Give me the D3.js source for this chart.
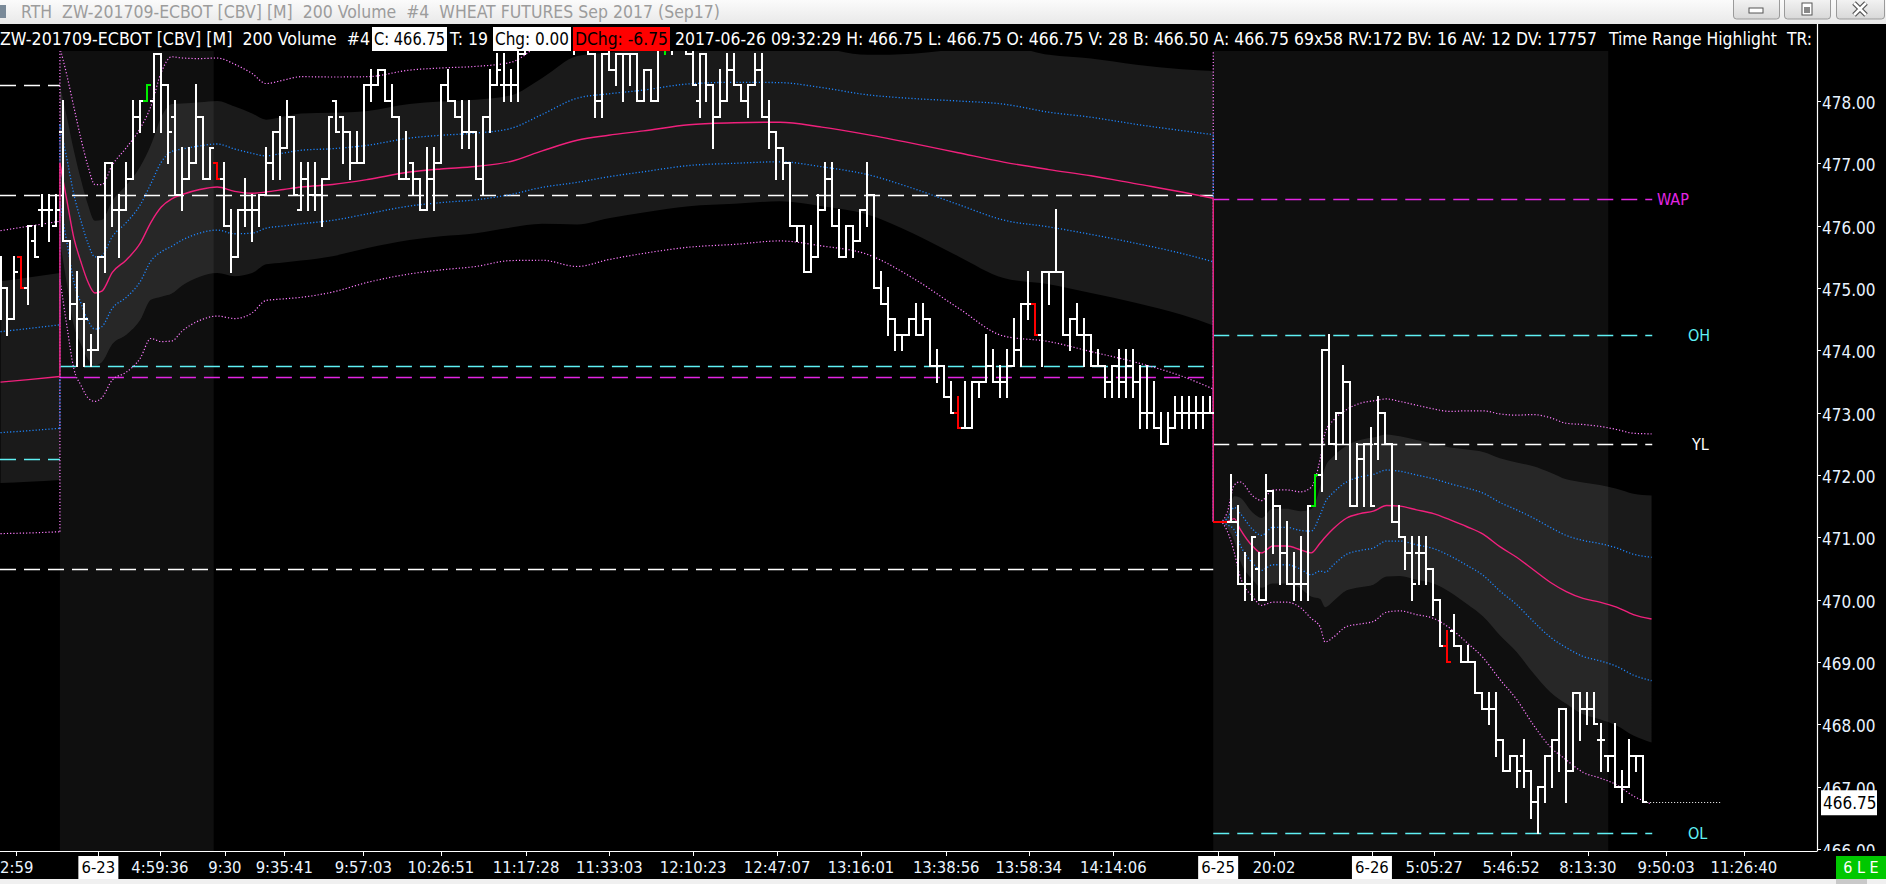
<!DOCTYPE html>
<html><head><meta charset="utf-8">
<script src="https://cdn.jsdelivr.net/npm/d3@7/dist/d3.min.js"></script>
<style>
html,body{margin:0;padding:0;background:#000;overflow:hidden}
svg{display:block}
text{font-family:"DejaVu Sans Condensed","DejaVu Sans",sans-serif;white-space:pre}
</style></head><body>
<svg id="c" width="1886" height="884"></svg>
<script>
// ---------------- DATA ----------------
const opens = [
475,475,474.5,475.5,475,475.75,476.25,476.25,476,477.5,
475.75,474.75,474.5,474,474,475.5,477,476.25,476.25,476.75,
477.75,478,478,478.75,478.25,477.75,476.5,476.75,477,477.75,
476.75,477,476.75,476,475.5,476.25,476.25,476.25,476.5,477,
477.5,477.25,477.75,476.25,476.75,476.5,476.5,476.75,478,477.75,
477.5,477,477,478.25,478.25,478.5,478,477.75,476.75,477,
476.75,476.25,476.75,477,478.25,478,477.75,477.5,477.5,476.75,
477.75,478.25,478.25,478.25,478.25,478.75,479.25,479.25,479.5,479.5,
479.25,479.25,479,479.25,479,478.75,478,478.75,478.5,478.75,
478.75,478.75,478,478.5,478,479,479,479,479,478.75,
478,478.75,478.25,477.75,478,478.5,478.25,478,478.25,478.5,
477.75,477.5,477.25,477,476,476,475.25,475.5,476.25,476.75,
476,475.5,476,475.75,476.25,476.5,475,474.75,474.5,474.25,
474.25,474.5,474.25,474.5,473.75,473.75,473.25,473,472.75,472.75,
473.5,473.5,473.75,473.5,473.5,473.75,474,474.75,474.75,474.25,
475.25,475.25,475.25,474.25,474.5,474.25,474.25,473.75,473.75,473.5,
473.75,473.5,473.75,473.5,473,473,472.75,472.5,472.75,473,
473,473,473,473,471.25,471.25,471.25,471.25,470.25,470.25,
470.5,470,471.75,471.5,470.75,470.25,470.25,470.25,471.5,472,
474,472.5,473,473.5,471.5,472.25,472.5,472.5,473,472.5,
471.25,471,470.75,470.75,470.75,470.5,470,469.25,469.5,469.25,
469,469,468.5,468.25,468.25,467.75,467.25,467.5,467.5,467.25,
466.75,467,467.5,467.75,468.25,467.25,468.5,468.25,468.25,467.75,
467.5,467.5,467,467,467.5,467.5];
const highs = [
475.5,475,475.5,475.5,476,476,476.5,476.5,476.5,478,
475.75,475.25,474.75,474.25,475.5,477,477,476.5,477,478,
478,478.25,478.75,478.75,478.25,478,477.25,477.25,478.25,477.75,
477.25,477,477,476.25,476.25,476.75,476.5,476.5,477.25,477.5,
477.75,478,477.75,477,477,477,476.75,477.75,478,477.75,
477.5,477.5,478.25,478.5,478.5,478.5,478.25,477.75,477.5,477,
476.75,477.25,477.25,478.25,478.5,478,478,478,477.5,477.75,
478.5,478.75,478.75,478.5,479,479.5,479.5,479.75,479.75,479.75,
479.5,479.5,479.5,479.5,479.25,478.75,478.75,479,478.75,478.75,
478.75,478.75,478.5,478.5,479,479.5,479.25,479.25,479.25,479,
478.75,478.75,478.25,478.5,478.75,478.75,478.25,478.25,478.75,478.75,
478,477.5,477.25,477,476,476,476,476.5,477,477,
476.25,476,476,476.25,477,476.5,475.25,475,474.5,474.25,
474.5,474.75,474.75,474.5,474,473.75,473.5,473.25,473.5,473.5,
473.5,474.25,474,473.75,474,474.5,474.75,475.25,474.75,475.25,
475.25,476.25,475.25,474.5,474.75,474.5,474.25,474,473.75,473.75,
474,474,474,473.75,473.75,473.5,473,473,473.25,473.25,
473.25,473.25,473.25,473.25,471.25,471.25,472,471.5,470.75,471,
470.75,472,471.75,471.5,471.25,470.75,471,471.5,472,474,
474.25,473,473.75,473.5,472.5,472.5,472.75,473.25,473,472.5,
471.5,471,471,471,471,470.5,470,469.5,469.75,469.25,
469.25,469,468.5,468.5,468.5,467.75,467.5,467.5,467.75,467.25,
467,467.5,467.75,468.25,468.25,468.5,468.5,468.5,468.5,468,
467.5,468,467.25,467.75,467.5,467.5];
const lows = [
474.5,474.25,474.5,475,474.75,475.5,476,475.75,476,475.75,
474.5,473.75,473.75,473.75,474,475.25,476,475.5,476.25,476.75,
477.5,478,477.5,477.5,477,476.5,476.25,476.75,477,476.75,
476.75,476.75,476,475.25,475.5,476,475.75,476,476.5,476.75,
476.75,477.25,476.5,476.25,476.25,476.25,476,476.75,477.5,477,
476.75,477,477,478,478.25,478,477.75,476.75,476.75,476.5,
476.25,476.25,476.25,477,478,477.75,477.25,477.25,476.75,476.5,
477.5,478.25,478,478,478,478.75,479,479,479.25,479,
479,479,478.75,479,478.75,477.75,477.75,478.5,478.25,478,
478.25,478,478,478,478,478.75,478.75,479,478.75,478.25,
477.75,478,477.25,477.75,478,478.25,478,477.75,478.25,477.75,
477.25,476.75,476.75,476,475.75,475.25,475.25,475.5,476.25,476,
475.5,475.5,475.5,475.75,476,475,474.75,474.25,474,474,
474.25,474.25,474.25,473.75,473.5,473.25,473,472.75,472.75,472.75,
473.25,473.5,473.5,473.25,473.25,473.75,473.75,474.5,474.25,473.75,
474.75,475.25,474.25,474,474.25,473.75,473.75,473.75,473.25,473.25,
473.25,473.25,473.25,472.75,472.75,472.75,472.5,472.5,472.75,472.75,
472.75,472.75,472.75,473,471.25,471.25,471.25,470.25,470,470,
470,470,470.75,470.25,470.25,470,470,470,471.5,471.75,
472.5,472.25,472.5,471.5,471.5,471.5,471.5,472.25,472.5,471.25,
471,470.5,470,470.25,470.25,469.75,469.25,469,469.25,469,
469,468.5,468.25,468,467.5,467.25,467.25,467,467,466.5,
466.25,466.75,467,467.25,466.75,467.25,467.75,468,468,467.25,
467.25,467,466.75,467,467.25,466.75];
const closes = [
475,474.5,475.25,475,476,475.5,476.25,476.25,476.25,475.75,
474.75,474.5,474.5,474,475.5,477,476.25,476.25,476.75,477.75,
478,478.25,478.75,478.25,477.5,476.5,476.75,477,477.75,476.75,
477.25,476.75,476,475.5,476.25,476.25,476.25,476.5,477,477.5,
477.25,477.75,476.5,476.75,476.5,476.5,476.75,477.75,477.5,477.5,
477,477,478.25,478.25,478.5,478,477.75,476.75,476.75,476.75,
476.25,476.75,477,478.25,478,477.75,477.5,477.5,476.75,477.75,
478.25,478.5,478.25,478.25,478.75,479.25,479.25,479.5,479.5,479.25,
479.25,479,479.25,479,478.75,478,478.75,478.5,478.75,478.75,
478.75,478,478.5,478,479,479.25,479,479,478.75,478.25,
478.75,478.25,477.75,478,478.5,478.25,478,478.25,478.5,477.75,
477.5,477.25,477,476,476,475.25,475.5,476.25,476.75,476,
475.5,476,475.75,476.25,476.5,475,474.75,474.5,474.25,474.25,
474.5,474.25,474.5,473.75,473.75,473.25,473,472.75,472.75,473.5,
473.5,473.75,473.5,473.5,473.75,474,474.75,474.75,474.25,475.25,
475.25,475.25,474.25,474.5,474.25,474.25,473.75,473.75,473.5,473.75,
473.5,473.75,473.5,473,473,472.75,472.5,472.75,473,473,
473,473,473,473,471.25,471.25,471.25,470.25,470.25,471,
470,471.75,471.5,470.75,470.25,470.25,470.25,471.5,472,474,
472.5,473,473.5,471.5,472.25,472.5,471.5,473,472.5,471.25,
471,470.75,470.25,470.75,470.5,470,469.25,469,469.25,469,
469,468.5,468.25,468.25,467.75,467.25,467.5,467.25,467.25,466.75,
467,467.5,467.75,468.25,467.25,468.5,468.25,468.25,468,467.75,
467.5,467,467,467.5,467.5,466.75];
const redBars = [3,31,137,148,174,175,207];
const greenBars = [21,95,188];

// VWAP study per session: knot bar index, VWAP value, standard deviation
const sessAIdx  = [0,4,8.5];
const sessAVwap = [473.49,473.53,473.58];
const sessASd   = [0.81,0.82,0.83];
const sessBIdx  = [8.5,9.5,10.5,11.5,12.5,13.5,14.5,16,18,20,21.5,23,24.5,26,28.5,31,33.5,36,38,40.5,43,47.5,52.5,58.5,63,68,73,77.5,82.5,87,92,98.5,105,111.5,117.5,124,130.5,137,143.5,150,156,162.5,169,173.5];
const sessBVwap = [477.0,476.4,475.8,475.42,475.1,474.92,474.95,475.25,475.45,475.72,476.05,476.3,476.43,476.5,476.58,476.62,476.55,476.52,476.54,476.58,476.62,476.66,476.74,476.86,476.91,476.95,477.03,477.2,477.37,477.45,477.52,477.62,477.65,477.66,477.58,477.46,477.32,477.17,477.02,476.9,476.8,476.67,476.54,476.44];
const sessBSd   = [0.62,0.67,0.7,0.66,0.62,0.58,0.57,0.575,0.6,0.615,0.62,0.72,0.76,0.73,0.7,0.69,0.68,0.64,0.58,0.585,0.59,0.575,0.55,0.545,0.54,0.535,0.53,0.585,0.675,0.665,0.655,0.655,0.65,0.635,0.635,0.64,0.72,0.83,0.93,0.92,0.94,0.955,0.985,1.02];
const sessCIdx  = [173.5,174.5,175.5,176.5,177.3,179.2,180.4,182,184,186,187.5,188.8,189.5,190.7,192.6,194.5,196.4,198.3,200.2,202.6,205,207.4,209.8,212.1,214.5,216.9,219.3,221.7,224,226.4,228.8,231.2,233.6,236.2];
const sessCVwap = [471.25,471.25,471.25,471.3,471.14,470.85,470.75,470.86,470.86,470.8,470.75,470.91,471.0,471.14,471.31,471.38,471.42,471.51,471.5,471.44,471.38,471.28,471.17,471.05,470.85,470.68,470.48,470.28,470.13,470.02,469.96,469.88,469.76,469.69];
const sessCSd   = [0,0,0.05,0.18,0.25,0.27,0.28,0.3,0.3,0.31,0.35,0.45,0.56,0.58,0.58,0.59,0.59,0.57,0.56,0.56,0.56,0.58,0.62,0.66,0.71,0.76,0.83,0.88,0.9,0.93,0.94,0.95,0.97,0.99];

// time range highlight (bar index ranges)
const highlightFrom = [9,174];
const highlightTo   = [30,229.5];

// reference levels
const levelValues = [478.25,472.25,476.5,470.5,473.75,473.57,476.43,474.25,472.5,466.25];
const levelFrom   = [-1,-1,-1,-1,8.5,8.5,173.5,173.5,173.5,173.5];
const levelTo     = [8.5,8.5,173.5,173.5,173.5,173.5,236.3,236.3,236.3,236.3];
const levelKinds  = ['w','c','w','w','c','m','m','c','w','c'];
const levelLabels = ['','','','','','','WAP','OH','YL','OL'];

// axes
const priceTicks = [466,467,468,469,470,471,472,473,474,475,476,477,478];
const timeTickIdx = [2.2,14,22.8,32.1,40.6,51.9,63,75.2,87.1,99.1,111.1,123.1,135.3,147.1,159.2,174.2,182.2,196.2,205.1,216.1,227.1,238.3,249.4];
const timeTickText = ['2:59','6-23','4:59:36','9:30','9:35:41','9:57:03','10:26:51','11:17:28','11:33:03','12:10:23','12:47:07','13:16:01','13:38:56','13:58:34','14:14:06','6-25','20:02','6-26','5:05:27','5:46:52','8:13:30','9:50:03','11:26:40'];
const lastPrice = 466.75;

const titleText = 'RTH  ZW-201709-ECBOT [CBV] [M]  200 Volume  #4  WHEAT FUTURES Sep 2017 (Sep17)';
const infoParts = [
  'ZW-201709-ECBOT [CBV] [M]  200 Volume  #4',
  'C: 466.75','T: 19','Chg: 0.00','DChg: -6.75',
  '2017-06-26 09:32:29 H: 466.75 L: 466.75 O: 466.75 V: 28 B: 466.50 A: 466.75 69x58 RV:172 BV: 16 AV: 12 DV: 17757',
  'Time Range Highlight  TR:'];

// ---------------- DRAW ----------------
const W=1886,H=884, plotRight=1817, plotTop=51, plotBottom=851;
const x = d3.scaleLinear().domain([0,1]).range([0.5,7.49]);
const y = d3.scaleLinear().domain([466,478]).range([849,101]);
const svg = d3.select('#c');
const defs = svg.append('defs');
defs.append('clipPath').attr('id','plotClip').append('rect')
  .attr('x',0).attr('y',plotTop).attr('width',plotRight).attr('height',plotBottom-plotTop);
defs.append('clipPath').attr('id','axisClip').append('rect')
  .attr('x',plotRight).attr('y',24).attr('width',W-plotRight).attr('height',plotBottom-24);
const tg = defs.append('linearGradient').attr('id','tbar').attr('x1',0).attr('y1',0).attr('x2',0).attr('y2',1);
tg.append('stop').attr('offset',0).attr('stop-color','#fbfbfb');
tg.append('stop').attr('offset',1).attr('stop-color','#e9e9e9');
const bg = defs.append('linearGradient').attr('id','btn').attr('x1',0).attr('y1',0).attr('x2',0).attr('y2',1);
bg.append('stop').attr('offset',0).attr('stop-color','#f6f6f6');
bg.append('stop').attr('offset',1).attr('stop-color','#d8d8d8');

svg.append('rect').attr('width',W).attr('height',H).attr('fill','#000');
const g = svg.append('g').attr('clip-path','url(#plotClip)');

// highlight shading
highlightFrom.forEach((a,k)=>{
  const x0 = x(a)-3.5, x1 = x(highlightTo[k])+3.5;
  g.append('rect').attr('x',x0).attr('y',plotTop).attr('width',x1-x0).attr('height',plotBottom-plotTop)
   .attr('fill','#fff').attr('fill-opacity',0.058);
});

const sessions = [
  {idx:sessAIdx, vw:sessAVwap, sd:sessASd},
  {idx:sessBIdx, vw:sessBVwap, sd:sessBSd},
  {idx:sessCIdx, vw:sessCVwap, sd:sessCSd}];
sessions.forEach(s=>{ s.pts = s.idx.map((d,j)=>({i:d, v:s.vw[j], s:s.sd[j]})); });

// +-2 sd band
const area = d3.area().x(d=>x(d.i)).y0(d=>y(d.v-2*d.s)).y1(d=>y(d.v+2*d.s)).curve(d3.curveMonotoneX);
sessions.forEach(s=>{
  g.append('path').datum(s.pts).attr('d',area).attr('fill','#fff').attr('fill-opacity',0.1);
});

// reference level lines
const kindColor = {w:'#ffffff', c:'#5ff0f4', m:'#e326e3'};
levelValues.forEach((v,k)=>{
  g.append('line').attr('x1',levelFrom[k]<0?0:x(levelFrom[k])).attr('x2',x(levelTo[k]))
   .attr('y1',Math.round(y(v))+0.5).attr('y2',Math.round(y(v))+0.5)
   .attr('stroke',kindColor[levelKinds[k]]).attr('stroke-width',1.3).attr('stroke-dasharray','16,8');
});

// study lines
const lineStyles = [
  {k:3, color:'#ff7cff', dash:'1.2,2', w:1.2},
  {k:-3, color:'#ff7cff', dash:'1.2,2', w:1.2},
  {k:1, color:'#1e86ff', dash:'1.2,2', w:1.3},
  {k:-1, color:'#1e86ff', dash:'1.2,2', w:1.3},
  {k:0, color:'#f0207c', dash:null, w:1.4}];
lineStyles.forEach(st=>{
  const ln = d3.line().x(d=>x(d.i)).y(d=>y(d.v+st.k*d.s)).curve(d3.curveMonotoneX);
  sessions.forEach((s,si)=>{
    const p = g.append('path').datum(s.pts).attr('d',ln).attr('fill','none')
      .attr('stroke',st.color).attr('stroke-width',st.w);
    if(st.dash) p.attr('stroke-dasharray',st.dash);
    if(si>0){
      const a = sessions[si-1].pts[sessions[si-1].pts.length-1], b = s.pts[0];
      const c = g.append('line').attr('x1',x(a.i)).attr('x2',x(b.i))
        .attr('y1',y(a.v+st.k*a.s)).attr('y2',y(b.v+st.k*b.s))
        .attr('stroke',st.color).attr('stroke-width',st.w);
      if(st.dash) c.attr('stroke-dasharray',st.dash);
    }
  });
});

// OHLC bars
const bars = opens.map((o,i)=>({i, o, h:highs[i], l:lows[i], c:closes[i],
  col: redBars.includes(i)?'#ff0000':(greenBars.includes(i)?'#00ee00':'#ffffff')}));
const bg2 = g.append('g').attr('shape-rendering','crispEdges');
bars.forEach(b=>{
  const cx = Math.round(x(b.i));
  bg2.append('line').attr('x1',cx).attr('x2',cx).attr('y1',y(b.h)-1).attr('y2',y(b.l)+1)
    .attr('stroke',b.col).attr('stroke-width',2);
  bg2.append('line').attr('x1',cx-4).attr('x2',cx).attr('y1',y(b.o)).attr('y2',y(b.o))
    .attr('stroke',b.col).attr('stroke-width',2);
  bg2.append('line').attr('x1',cx).attr('x2',cx+4).attr('y1',y(b.c)).attr('y2',y(b.c))
    .attr('stroke',b.col).attr('stroke-width',2);
});

// last price dotted line
g.append('line').attr('x1',x(opens.length-1)+4).attr('x2',1722)
  .attr('y1',Math.round(y(lastPrice))+0.5).attr('y2',Math.round(y(lastPrice))+0.5)
  .attr('stroke','#fff').attr('stroke-width',1).attr('stroke-dasharray','1,2');

// level labels
const labelX = {WAP:1657, OH:1688, YL:1692, OL:1688};
levelLabels.forEach((t,k)=>{
  if(!t) return;
  svg.append('text').attr('x',labelX[t]).attr('y',y(levelValues[k])).attr('dy','0.36em')
    .attr('fill',kindColor[levelKinds[k]]).attr('font-size',16).text(t);
});

// right price axis
const ax = svg.append('g').attr('clip-path','url(#axisClip)');
priceTicks.forEach(p=>{
  const yy = Math.round(y(p))+0.5;
  ax.append('line').attr('x1',plotRight).attr('x2',plotRight+4).attr('y1',yy).attr('y2',yy).attr('stroke','#fff');
  ax.append('text').attr('x',plotRight+5).attr('y',y(p)+2).attr('dy','0.36em')
    .attr('fill','#e8f3ff').attr('font-size',17).text(d3.format('.2f')(p));
});
svg.append('line').attr('x1',plotRight+0.5).attr('x2',plotRight+0.5).attr('y1',24).attr('y2',plotBottom+0.5)
  .attr('stroke','#fff').attr('stroke-width',1.2);
// last price box
const ly = y(lastPrice);
svg.append('rect').attr('x',1821).attr('y',ly-12).attr('width',56).attr('height',25).attr('fill','#fff');
svg.append('text').attr('x',1823).attr('y',ly+1).attr('dy','0.36em').attr('fill','#000').attr('font-size',17)
  .text(d3.format('.2f')(lastPrice));

// bottom time axis
svg.append('line').attr('x1',0).attr('x2',plotRight).attr('y1',plotBottom+0.5).attr('y2',plotBottom+0.5)
  .attr('stroke','#fff').attr('stroke-width',1.2);
timeTickIdx.forEach((ti,k)=>{
  const t = timeTickText[k];
  const cx = x(ti);
  const isDate = /^\d-\d\d$/.test(t);
  svg.append('line').attr('x1',Math.round(cx)+0.5).attr('x2',Math.round(cx)+0.5)
    .attr('y1',plotBottom).attr('y2',plotBottom+5).attr('stroke','#fff');
  if(isDate){
    svg.append('rect').attr('x',cx-20).attr('y',856).attr('width',40).attr('height',23).attr('fill','#fff');
  }
  const tx = svg.append('text').attr('y',867).attr('dy','0.36em').attr('font-size',16.5)
    .attr('fill',isDate?'#000':'#eaf4ff').text(t);
  if(k===0) tx.attr('x',0); else tx.attr('x',cx).attr('text-anchor','middle');
});

// bottom strip & status box
svg.append('rect').attr('x',0).attr('y',879).attr('width',W).attr('height',5).attr('fill','#f0f0f0');
svg.append('rect').attr('x',1836).attr('y',879).attr('width',31).attr('height',5).attr('fill','#c9c9c9');
svg.append('rect').attr('x',1836).attr('y',856).attr('width',50).attr('height',23).attr('fill','#00c800');
svg.append('text').attr('x',1861).attr('y',867).attr('dy','0.36em').attr('text-anchor','middle')
  .attr('fill','#fff').attr('font-size',16).text('6 L E');

// title bar
svg.append('rect').attr('x',0).attr('y',0).attr('width',W).attr('height',24).attr('fill','url(#tbar)');
svg.append('rect').attr('x',0).attr('y',5).attr('width',6).attr('height',13).attr('fill','#7a8a99');
svg.append('text').attr('x',21).attr('y',12).attr('dy','0.36em').attr('font-size',18).attr('fill','#9c9c9c')
  .attr('textLength',699).attr('lengthAdjust','spacingAndGlyphs').text(titleText);
[[1733,46],[1784,46],[1836,48]].forEach(([bx,bw],k)=>{
  svg.append('rect').attr('x',bx+0.5).attr('y',-3).attr('width',bw).attr('height',22).attr('rx',3)
    .attr('fill','url(#btn)').attr('stroke','#9a9a9a');
  const cx = bx+bw/2;
  if(k===0){
    svg.append('rect').attr('x',cx-7).attr('y',8).attr('width',14).attr('height',5).attr('fill','#fff').attr('stroke','#555');
  } else if(k===1){
    svg.append('rect').attr('x',cx-5).attr('y',3).attr('width',10).attr('height',12).attr('fill','#fff').attr('stroke','#555');
    svg.append('rect').attr('x',cx-3).attr('y',7).attr('width',6).attr('height',6).attr('fill','#888');
  } else {
    svg.append('path').attr('d',`M${cx-6},3L${cx+6},15M${cx+6},3L${cx-6},15`).attr('stroke','#555').attr('stroke-width',5);
    svg.append('path').attr('d',`M${cx-6},3L${cx+6},15M${cx+6},3L${cx-6},15`).attr('stroke','#fff').attr('stroke-width',2.5);
  }
});

// info line
const infoY = 45;
const boxes = [
  {x:372,w:75,fill:'#fff'},{x:493,w:78,fill:'#fff'},{x:573,w:97,fill:'#ff0000'}];
boxes.forEach(b=>svg.append('rect').attr('x',b.x).attr('y',27).attr('width',b.w).attr('height',24).attr('fill',b.fill));
const infoPos = [[0,370,'#fff'],[374,71,'#000'],[450,38,'#fff'],[495,74,'#000'],[575,93,'#000'],[675,922,'#fff'],[1609,203,'#fff']];
infoParts.forEach((t,k)=>{
  svg.append('text').attr('x',infoPos[k][0]).attr('y',infoY).attr('font-size',17.5).attr('fill',infoPos[k][2])
    .attr('textLength',infoPos[k][1]).attr('lengthAdjust','spacingAndGlyphs').text(t);
});
</script>
</body></html>
